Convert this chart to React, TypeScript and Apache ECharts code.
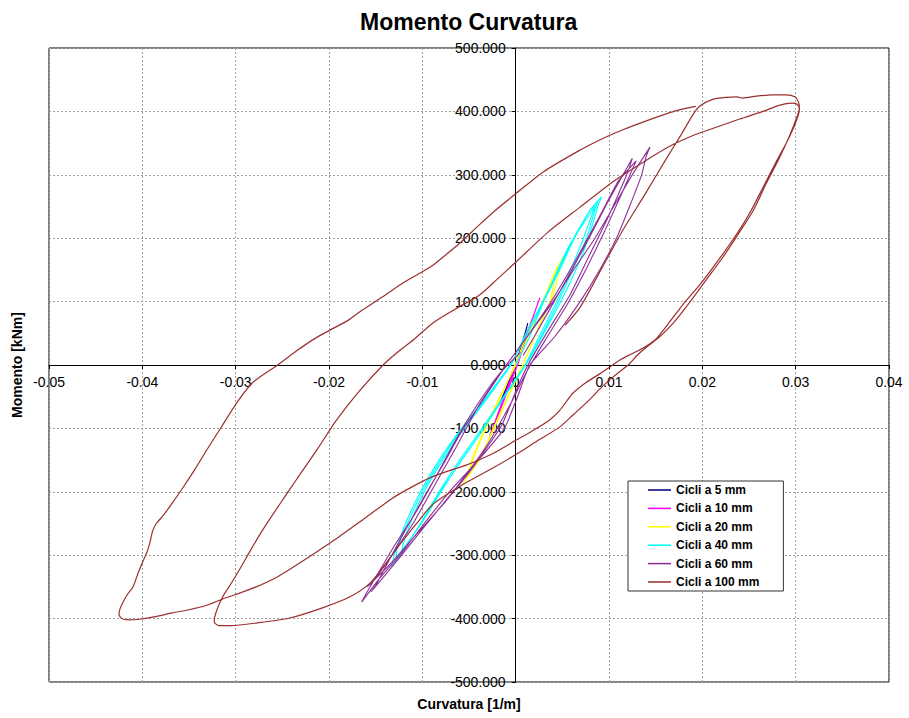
import React, { useEffect, useRef } from 'react';
import * as echarts from 'echarts';

type Pt = [number, number];

// Axis ranges and ticks
const X_RANGE = [-0.05, 0.04];
const X_STEP = 0.01;
const Y_RANGE = [-500, 500];
const Y_STEP = 100;

const seriesNames = [
  'Cicli a 5 mm',
  'Cicli a 10 mm',
  'Cicli a 20 mm',
  'Cicli a 40 mm',
  'Cicli a 60 mm',
  'Cicli a 100 mm',
];
const seriesColors = ['#000080', '#FF00FF', '#FFFF00', '#00FFFF', '#8e2f98', '#9b2f2f'];

// Curvature [1/m], moment [kNm]
const cicli5: Pt[] = [
  [0, 0], [0.0006, 30], [0.0011, 55], [0.0013, 66], [0.001, 50], [0.0004, 18], [-0.0004, -18],
  [-0.0011, -42], [-0.0016, -57], [-0.0018, -63], [-0.0014, -50], [-0.0007, -25], [0.0001, 6],
  [0.0007, 35], [0.0012, 60], [0.0009, 42], [0.0002, 8], [-0.0006, -24], [-0.0012, -46],
  [-0.0017, -60], [-0.0011, -40], [-0.0004, -12], [0.0001, 4],
];

const cicli10: Pt[] = [
  [0.0001, 4], [0.0009, 38], [0.0018, 74], [0.0026, 106], [0.0021, 86], [0.0012, 46], [0.0003, 4],
  [-0.0009, -42], [-0.002, -84], [-0.0028, -112], [-0.0023, -95], [-0.0013, -55], [-0.0003, -12],
  [0.0007, 30], [0.0017, 70], [0.0024, 98], [0.0019, 77], [0.0009, 35], [-0.0002, -8],
  [-0.0013, -52], [-0.0024, -97], [-0.0016, -64], [-0.0005, -20], [0.0002, 6],
];

const cicli20: Pt[] = [
  [0.0002, 6], [0.0012, 40], [0.003, 100], [0.0046, 155],
  [0.0042, 140], [0.0037, 100], [0.0022, 50], [0.0008, 0], [-0.0008, -50], [-0.0023, -100],
  [-0.004, -150], [-0.005, -175],
  [-0.0049, -165], [-0.0046, -150], [-0.0032, -100], [-0.0016, -50], [-0.0001, 0], [0.0013, 50],
  [0.0029, 100], [0.0043, 150], [0.0052, 173],
  [0.0048, 155], [0.004, 110], [0.0023, 55], [0.0009, 5], [-0.0007, -45], [-0.0024, -100],
  [-0.0039, -150], [-0.0057, -188],
  [-0.0053, -180], [-0.0047, -150], [-0.0033, -100], [-0.0017, -50], [0.0002, 5],
];

const cicli40: Pt[] = [
  [0, 0], [0.0015, 45], [0.003, 100], [0.0058, 190], [0.0085, 250],
  [0.008, 230], [0.007, 190], [0.0056, 140], [0.0044, 100], [0.0027, 50], [0.001, 0],
  [-0.0013, -50], [-0.0036, -100], [-0.006, -150], [-0.0082, -200], [-0.0102, -250],
  [-0.0122, -295],
  [-0.0121, -285], [-0.0113, -250], [-0.0098, -200], [-0.0078, -150], [-0.0055, -100],
  [-0.0029, -50], [-0.0006, 0], [0.0013, 50], [0.003, 100], [0.0047, 150], [0.0063, 200],
  [0.0078, 240], [0.0088, 258],
  [0.0084, 240], [0.0076, 200], [0.0061, 150], [0.0046, 100], [0.0029, 50], [0.0011, 0],
  [-0.0012, -50], [-0.0034, -100], [-0.0058, -150], [-0.008, -200], [-0.0101, -250],
  [-0.0128, -305],
  [-0.0127, -290], [-0.0116, -250], [-0.01, -200], [-0.008, -150], [-0.0057, -100],
  [-0.003, -50], [-0.0005, 0], [0.0011, 50], [0.0029, 100], [0.0046, 150], [0.0062, 200],
  [0.008, 245], [0.0092, 265],
  [0.0088, 250], [0.0079, 205], [0.0066, 155], [0.005, 105], [0.0032, 55], [0.0013, 5],
  [-0.001, -45], [-0.0034, -100], [-0.006, -155], [-0.0083, -205], [-0.0104, -255],
  [-0.0121, -295], [-0.0133, -318],
  [-0.013, -300], [-0.0118, -250], [-0.0102, -200], [-0.0082, -150], [-0.0058, -100],
  [-0.0031, -50], [-0.0006, 0],
];

const cicli60: Pt[] = [
  [0.0008, 15], [0.002, 45], [0.0045, 110], [0.0075, 190], [0.0098, 255], [0.0115, 300],
  [0.0125, 326],
  [0.0119, 300], [0.0098, 230], [0.0078, 170], [0.0058, 110], [0.0035, 55], [0.0015, 5],
  [0.0002, -35], [-0.0015, -95], [-0.0045, -160], [-0.0075, -215], [-0.0105, -265],
  [-0.0135, -315], [-0.0159, -350],
  [-0.0152, -340], [-0.0135, -305], [-0.011, -250], [-0.0085, -185], [-0.0062, -125],
  [-0.004, -65], [-0.0015, -10], [0.001, 40], [0.0038, 100], [0.0068, 175], [0.0092, 240],
  [0.011, 290], [0.0129, 322],
  [0.0124, 305], [0.0112, 265], [0.0095, 210], [0.0075, 150], [0.0055, 95], [0.0032, 40],
  [0.0012, -10], [-0.0005, -60], [-0.003, -125], [-0.0062, -190], [-0.0095, -250],
  [-0.0125, -305], [-0.0155, -358],
  [-0.015, -348], [-0.014, -320], [-0.0118, -260], [-0.0095, -200], [-0.0075, -150],
  [-0.0058, -105], [-0.0035, -55], [-0.001, 0], [0.0015, 50], [0.004, 100], [0.0062, 150],
  [0.0085, 200], [0.0105, 250], [0.0125, 300], [0.0144, 344],
  [0.014, 330], [0.0135, 300], [0.0122, 250], [0.0108, 200], [0.009, 150], [0.0069, 100],
  [0.0042, 45], [0.0015, 0], [0.0002, -50], [-0.0012, -100], [-0.004, -150], [-0.0071, -200],
  [-0.0098, -250], [-0.0124, -300], [-0.0145, -335], [-0.0165, -374],
  [-0.016, -360], [-0.015, -335], [-0.013, -285], [-0.0108, -235], [-0.0085, -175],
  [-0.0063, -115], [-0.004, -60], [-0.0018, -15], [0.0005, 20],
];

const cicli100: Pt[] = [
  // first push to the positive peak, along the plateau
  [0.0053, 63], [0.0069, 91], [0.0092, 152], [0.0115, 213], [0.0138, 268], [0.016, 322],
  [0.0178, 365], [0.019, 395], [0.0197, 408], [0.0211, 419], [0.0225, 422], [0.0237, 423],
  [0.0243, 421], [0.0258, 424], [0.0275, 426], [0.029, 426], [0.0299, 423], [0.0303, 415],
  [0.0304, 405],
  // unloading to the first negative peak
  [0.0301, 390], [0.0293, 360], [0.0282, 325], [0.0268, 285], [0.0255, 245], [0.024, 210],
  [0.0222, 170], [0.0202, 130], [0.0186, 98], [0.017, 68], [0.0154, 44], [0.014, 28],
  [0.013, 15], [0.0122, 2], [0.0105, -18], [0.009, -38], [0.0079, -55], [0.0062, -78],
  [0.0047, -98], [0.0025, -118], [0.0005, -137], [-0.0025, -163], [-0.0057, -189],
  [-0.0089, -220], [-0.0105, -248], [-0.0124, -283], [-0.014, -315], [-0.0156, -344],
  [-0.0178, -366], [-0.0207, -383], [-0.0242, -399], [-0.0278, -407], [-0.0305, -411],
  [-0.0318, -411], [-0.0323, -405],
  // reloading to the positive peak
  [-0.0321, -390], [-0.0314, -366], [-0.0305, -345], [-0.0296, -323], [-0.0284, -292],
  [-0.0271, -260], [-0.0253, -220], [-0.0235, -181], [-0.0213, -134], [-0.0192, -87],
  [-0.0168, -42], [-0.0142, 0], [-0.0125, 22], [-0.011, 39], [-0.0089, 66], [-0.0065, 88],
  [-0.0039, 110], [-0.002, 135], [0, 162], [0.0035, 210], [0.0069, 249], [0.0105, 290],
  [0.014, 323], [0.0165, 345], [0.019, 362], [0.0211, 373], [0.024, 388], [0.0265, 400],
  [0.0283, 410], [0.0296, 413], [0.0302, 411], [0.0304, 403],
  // unloading to the second negative peak
  [0.0303, 395], [0.0298, 375], [0.029, 350], [0.0279, 320], [0.0265, 280], [0.0252, 243],
  [0.0237, 207], [0.0218, 167], [0.0198, 128], [0.0179, 95], [0.0165, 68], [0.0151, 42],
  [0.0138, 28], [0.0125, 18], [0.0113, 9], [0.0104, 0], [0.009, -14], [0.0075, -28],
  [0.0061, -45], [0.0047, -72], [0.0036, -87], [0.002, -102], [0.0001, -118], [-0.0025, -140],
  [-0.0053, -158], [-0.0072, -167], [-0.0092, -178], [-0.0112, -193], [-0.0132, -210],
  [-0.016, -240], [-0.0195, -277], [-0.0231, -312], [-0.0255, -334], [-0.0278, -350],
  [-0.03, -362], [-0.0314, -369], [-0.0331, -379], [-0.035, -386], [-0.0368, -391],
  [-0.0386, -397], [-0.0403, -401], [-0.0415, -402], [-0.0422, -400], [-0.0425, -393],
  [-0.0424, -385],
  // reloading towards the positive side
  [-0.0421, -375], [-0.0416, -362], [-0.041, -350], [-0.0405, -330], [-0.04, -312],
  [-0.0395, -295], [-0.0392, -281], [-0.0389, -262], [-0.0385, -250], [-0.0378, -238],
  [-0.0368, -218], [-0.0355, -190], [-0.0343, -163], [-0.0331, -134], [-0.0315, -97],
  [-0.0299, -60], [-0.0282, -28], [-0.0255, 0], [-0.0235, 22], [-0.0215, 42], [-0.0199, 55],
  [-0.018, 70], [-0.0164, 87], [-0.014, 110], [-0.012, 130], [-0.01, 147], [-0.0088, 158],
  [-0.0078, 170], [-0.006, 192], [-0.0039, 221], [-0.002, 246], [0, 270], [0.003, 305],
  [0.0069, 339], [0.009, 355], [0.0115, 371], [0.014, 385], [0.0165, 398], [0.018, 404],
  [0.0193, 408],
];

const seriesData: Pt[][] = [cicli5, cicli10, cicli20, cicli40, cicli60, cicli100];

const FONT = 'Liberation Sans, Arial, sans-serif';

// Plot area
const GRID = { left: 49, top: 48, width: 840, height: 634 };

export default function App() {
  const ref = useRef<HTMLDivElement>(null);

  useEffect(() => {
    if (!ref.current) return;
    const chart = echarts.init(ref.current, undefined, { renderer: 'svg' });

    // Axes cross at the origin: shift each axis from the plot edge to the zero line
    const zeroX = GRID.left + ((0 - X_RANGE[0]) / (X_RANGE[1] - X_RANGE[0])) * GRID.width;
    const zeroY = GRID.top + ((Y_RANGE[1] - 0) / (Y_RANGE[1] - Y_RANGE[0])) * GRID.height;

    const fmtX = (v: number) => {
      const r = Math.round(v * 100) / 100;
      return r === 0 ? '0' : String(r);
    };

    chart.setOption({
      animation: false,
      backgroundColor: '#ffffff',
      title: {
        text: 'Momento Curvatura',
        left: 355,
        top: 5,
        textStyle: { fontFamily: FONT, fontWeight: 'bold', fontSize: 23, color: '#000' },
      },
      grid: {
        ...GRID,
        containLabel: false,
        outerBoundsMode: 'none',
        show: true,
        borderColor: '#000',
        borderWidth: 1,
        backgroundColor: 'transparent',
      },
      xAxis: {
        type: 'value',
        min: X_RANGE[0],
        max: X_RANGE[1],
        interval: X_STEP,
        position: 'bottom',
        offset: -(GRID.top + GRID.height - zeroY),
        axisLine: { onZero: false, lineStyle: { color: '#000', width: 1 } },
        axisTick: { show: true, length: 4, lineStyle: { color: '#000' } },
        axisLabel: { formatter: fmtX, color: '#000', fontSize: 14, fontFamily: FONT, margin: 10 },
        splitLine: { show: true, lineStyle: { type: [2, 2], color: '#a0a0a0', width: 1 } },
      },
      yAxis: {
        type: 'value',
        min: Y_RANGE[0],
        max: Y_RANGE[1],
        interval: Y_STEP,
        position: 'left',
        offset: -(zeroX - GRID.left),
        axisLine: { onZero: false, lineStyle: { color: '#000', width: 1 } },
        axisTick: { show: true, length: 4, lineStyle: { color: '#000' } },
        axisLabel: {
          formatter: (v: number) => v.toFixed(3),
          color: '#000',
          fontSize: 14,
          fontFamily: FONT,
          margin: 10,
        },
        splitLine: { show: true, lineStyle: { type: [2, 2], color: '#a0a0a0', width: 1 } },
      },
      legend: {
        orient: 'vertical',
        left: 628,
        top: 481,
        backgroundColor: '#fff',
        borderColor: '#333',
        borderWidth: 1,
        borderRadius: 0,
        padding: [3, 24, 3, 20],
        itemWidth: 23,
        itemHeight: 12,
        itemGap: 6.4,
        icon: 'path://M0,0H30V2H0Z',
        textStyle: { fontFamily: FONT, fontWeight: 'bold', fontSize: 12, color: '#000' },
        data: seriesNames,
      },
      graphic: [
        {
          type: 'text',
          x: 469,
          y: 704,
          style: {
            text: 'Curvatura [1/m]',
            font: `bold 14px ${FONT}`,
            fill: '#000',
            textAlign: 'center',
            textVerticalAlign: 'middle',
          },
        },
        {
          type: 'text',
          x: 17,
          y: 365,
          rotation: Math.PI / 2,
          style: {
            text: 'Momento [kNm]',
            font: `bold 14px ${FONT}`,
            fill: '#000',
            textAlign: 'center',
            textVerticalAlign: 'middle',
          },
        },
      ],
      series: seriesData.map((data, i) => ({
        name: seriesNames[i],
        type: 'line',
        data,
        symbol: 'none',
        showSymbol: false,
        smooth: i === 5 ? 0.25 : 0.15,
        lineStyle: { color: seriesColors[i], width: i === 5 ? 1.2 : 1.1 },
        itemStyle: { color: seriesColors[i] },
        z: 2 + i,
      })),
    });

    return () => chart.dispose();
  }, []);

  return (
    <div
      ref={ref}
      style={{ position: 'fixed', left: 0, top: 0, width: 909, height: 718, background: '#fff' }}
    />
  );
}
